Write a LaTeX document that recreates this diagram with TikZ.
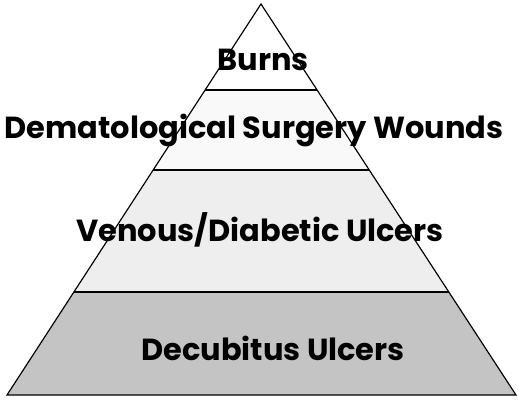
\documentclass[tikz,border=0pt]{standalone}
\usepackage{fontspec}
\setmainfont{Poppins}
\usepackage{tikz}
\usetikzlibrary{calc}
\definecolor{bandlight}{RGB}{249,249,249}
\definecolor{bandmid}{RGB}{238,238,238}
\definecolor{banddark}{RGB}{196,196,196}
\tikzset{
  edge/.style={line width=1pt, color=black},
  band/.style={draw=none},
  label/.style={font=\fontsize{26}{30}\selectfont\bfseries, inner sep=0pt}
}

\begin{document}
\begin{tikzpicture}[x=0.03cm, y=-0.03cm]
  \useasboundingbox (0,0) rectangle (518,401);
  \coordinate (apex) at (261,4);
  \coordinate (bl) at (7,395);
  \coordinate (br) at (516,395);

  % band borders on both sides
  \coordinate (l1) at ($(apex)!0.22!(bl)$);
  \coordinate (r1) at ($(apex)!0.22!(br)$);
  \coordinate (l2) at ($(apex)!0.4246!(bl)$);
  \coordinate (r2) at ($(apex)!0.4246!(br)$);
  \coordinate (l3) at ($(apex)!0.7366!(bl)$);
  \coordinate (r3) at ($(apex)!0.7366!(br)$);

  % fills
  \fill[band, white] (apex) -- (l1) -- (r1) -- cycle;
  \fill[band, bandlight] (l1) -- (l2) -- (r2) -- (r1) -- cycle;
  \fill[band, bandmid] (l2) -- (l3) -- (r3) -- (r2) -- cycle;
  \fill[band, banddark] (l3) -- (bl) -- (br) -- (r3) -- cycle;

  % outline and dividers
  \draw[edge] (apex) -- (bl) -- (br) -- cycle;
  \draw[edge, line width=1.3pt] (l1) -- (r1);
  \draw[edge, line width=1.3pt] (l2) -- (r2);
  \draw[edge, line width=1.3pt] (l3) -- (r3);

  \node[label] (burns) at (263,60) {Burns};
  \node[label] (derm) at (254,130) {Dematological Surgery Wounds};
  \node[label] (venous) at (260,230) {Venous/Diabetic Ulcers};
  \node[label] (decub) at (273,348) {Decubitus Ulcers};
\end{tikzpicture}
\end{document}
